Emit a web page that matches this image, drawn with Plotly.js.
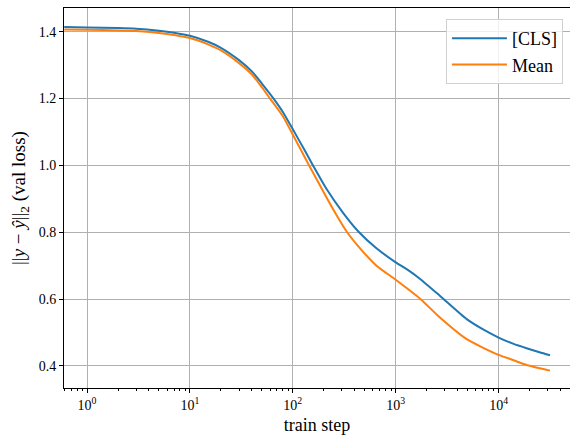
<!DOCTYPE html>
<html>
<head>
<meta charset="utf-8">
<script src="https://cdn.plot.ly/plotly-3.0.1.min.js"></script>
<style>html,body{margin:0;padding:0;overflow:hidden;background:#fff}</style>
</head>
<body>
<div id="chart" style="width:570px;height:436px"></div>
<script>
// train steps and validation loss
const stepsCLS = [0.6, 1, 2, 3, 5, 7, 10, 15, 20, 30, 40, 50, 65, 80, 100, 130, 157, 212, 308, 431, 650, 1000, 1300, 1715, 2685, 4900, 7000, 10000, 14000, 18700, 25000, 31600];
const lossCLS  = [1.414, 1.413, 1.411, 1.409, 1.403, 1.397, 1.388, 1.370, 1.352, 1.315, 1.281, 1.245, 1.200, 1.160, 1.108, 1.046, 1.000, 0.930, 0.858, 0.803, 0.752, 0.710, 0.688, 0.661, 0.610, 0.540, 0.510, 0.485, 0.466, 0.453, 0.441, 0.432];
const stepsMean = [0.6, 1, 2, 3, 5, 7, 10, 15, 20, 30, 40, 50, 60, 80, 100, 144, 212, 270, 337, 450, 650, 1000, 1715, 2690, 4900, 7000, 10000, 14000, 18700, 25000, 31600];
const lossMean  = [1.407, 1.406, 1.404, 1.402, 1.396, 1.390, 1.381, 1.362, 1.344, 1.306, 1.272, 1.234, 1.200, 1.147, 1.092, 1.000, 0.905, 0.848, 0.800, 0.752, 0.700, 0.658, 0.602, 0.545, 0.480, 0.455, 0.433, 0.417, 0.403, 0.393, 0.386];
const seriesNames = ['[CLS]', 'Mean'];
const xTickVals = [1, 10, 100, 1000, 10000];
const xTickText = ['10<sup>0</sup>', '10<sup>1</sup>', '10<sup>2</sup>', '10<sup>3</sup>', '10<sup>4</sup>'];

const minorVals = [];
for (let e = -1; e <= 4; e++) {
  for (let m = 2; m <= 9; m++) {
    minorVals.push(m * Math.pow(10, e));
  }
}

const font = 'Liberation Serif, Times New Roman, serif';
const traces = [
  {x: stepsCLS, y: lossCLS, name: seriesNames[0], mode: 'lines', line: {color: '#1f77b4', width: 2, shape: 'spline', smoothing: 0.6}},
  {x: stepsMean, y: lossMean, name: seriesNames[1], mode: 'lines', line: {color: '#ff7f0e', width: 2, shape: 'spline', smoothing: 0.6}}
];
const layout = {
  width: 570, height: 436,
  margin: {l: 64, r: 0, t: 8, b: 48},
  paper_bgcolor: '#fff', plot_bgcolor: '#fff',
  font: {family: font, size: 14, color: '#000'},
  showlegend: true,
  legend: {x: 0.986, y: 0.971, xanchor: 'right', yanchor: 'top', bgcolor: 'rgba(255,255,255,0.8)', bordercolor: '#d0d0d0', borderwidth: 1, itemwidth: 55, font: {family: font, size: 18}},
  xaxis: {
    type: 'log', range: [-0.224, 4.694],
    tickmode: 'array', tickvals: xTickVals, ticktext: xTickText,
    ticks: 'outside', ticklen: 4, tickcolor: '#000', tickwidth: 1,
    showline: true, linecolor: '#000', linewidth: 1, mirror: true,
    showgrid: true, gridcolor: '#b0b0b0', gridwidth: 1, zeroline: false,
    minor: {tickmode: 'array', tickvals: minorVals, ticks: 'outside', ticklen: 2, tickcolor: '#000', showgrid: false},
    tickfont: {family: font, size: 14},
    title: {text: 'train step', font: {family: font, size: 18}, standoff: 6}
  },
  yaxis: {
    range: [0.334, 1.471], dtick: 0.2, tick0: 0, tickformat: '.1f',
    ticks: 'outside', ticklen: 4, tickcolor: '#000', tickwidth: 1,
    showline: true, linecolor: '#000', linewidth: 1, mirror: false,
    showgrid: true, gridcolor: '#b0b0b0', gridwidth: 1, zeroline: false,
    tickfont: {family: font, size: 14},
    title: {text: '||<i>y</i> − <i>ŷ</i>||<sub>2</sub> (val loss)', font: {family: font, size: 19}, standoff: 8}
  }
};
Plotly.newPlot('chart', traces, layout, {displayModeBar: false, staticPlot: true});
</script>
</body>
</html>
